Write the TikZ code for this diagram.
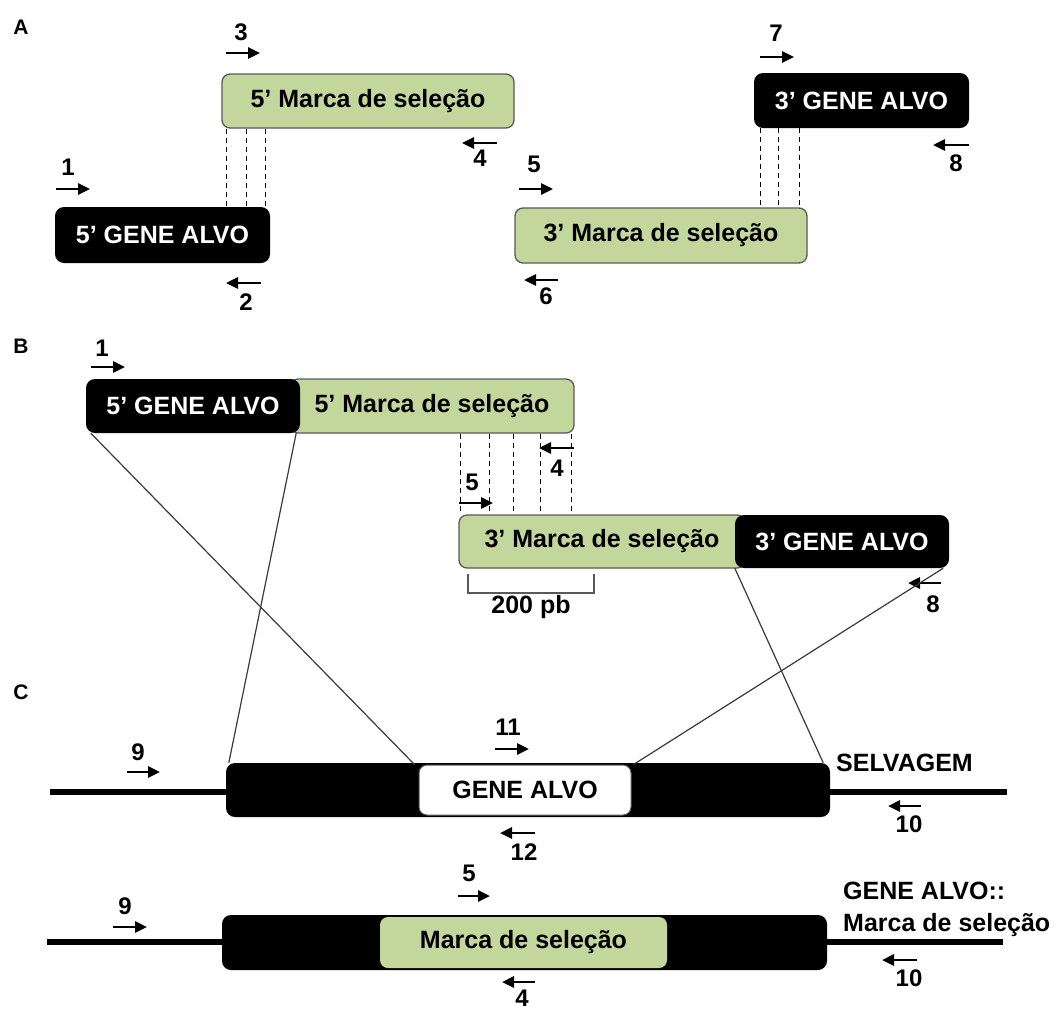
\documentclass[tikz,border=0pt]{standalone}
\usepackage{fontspec}
\setmainfont{Liberation Sans}
\usetikzlibrary{arrows.meta}
\definecolor{marcagreen}{HTML}{C3D69B}
\definecolor{edgegray}{HTML}{595959}
\definecolor{linkgray}{HTML}{3A3A3A}

\begin{document}
\begin{tikzpicture}[
    x=1pt, y=-1pt,
    % GLOBAL CFG
    font=\fontsize{25}{30}\selectfont\bfseries,
    >={Triangle[length=12pt,width=11pt]},
    % Styles
    marca/.style={% For the green selection marker boxes
        rectangle,
        rounded corners=8pt,
        draw=edgegray,
        fill=marcagreen,
        line width=1.3pt,
        inner sep=0pt,
        },
    gene/.style={% For the black target gene boxes
        rectangle,
        rounded corners=9pt,
        fill=black,
        text=white,
        inner sep=0pt,
        },
    wild/.style={% For the white box in the wild type locus
        rectangle,
        rounded corners=8pt,
        draw=edgegray,
        fill=white,
        line width=1pt,
        inner sep=0pt,
        },
    num/.style={% primer numbers
        font=\fontsize{24}{28}\selectfont\bfseries,
        inner sep=0pt,
        },
    panel/.style={% panel letters
        font=\fontsize{21}{24}\selectfont\bfseries,
        inner sep=0pt,
        },
    primer/.style={% primer arrows
        ->,
        line width=2.7pt,
        },
    alignline/.style={% dashed overlap lines
        dashed,
        dash pattern=on 5pt off 4pt,
        line width=1pt,
        },
    link/.style={% thin lines for the recombination
        linkgray,
        line width=1.2pt,
        },
    chrom/.style={% the chromosome
        line width=6pt,
        },
    ]

    \path[fill=white, use as bounding box] (0,0) rectangle (1056,1010);

    % Panel letters
    \node[panel] (pa) at (21,27)  {A};
    \node[panel] (pb) at (21,346) {B};
    \node[panel] (pc) at (21,692) {C};

%%% A: separate PCR products
    \node[marca, minimum width=292pt, minimum height=54pt] (mA5) at (368,101)   {5’ Marca de seleção};
    \node[gene,  minimum width=215pt, minimum height=56pt] (gA5) at (162.5,235) {5’ GENE ALVO};
    \node[gene,  minimum width=215pt, minimum height=55pt] (gA3) at (861.5,100.5) {3’ GENE ALVO};
    \node[marca, minimum width=292pt, minimum height=55pt] (mA3) at (661,235.5) {3’ Marca de seleção};

    % overlaps
    \foreach \x in {226,246,265}{
        \coordinate (dx) at (\x,0);
        \draw[alignline] (mA5.south -| dx) -- (gA5.north -| dx);
    }
    \foreach \x in {760,778,799}{
        \coordinate (dx) at (\x,0);
        \draw[alignline] (gA3.south -| dx) -- (mA3.north -| dx);
    }

    % primers
    \draw[primer] (56,189) -- (90,189);   \node[num] (nA1) at (68,167)  {1};
    \draw[primer] (261,283) -- (226,283); \node[num] (nA2) at (246,302) {2};
    \draw[primer] (226,53) -- (260,53);   \node[num] (nA3) at (241,32)  {3};
    \draw[primer] (497,143) -- (462,143); \node[num] (nA4) at (480,158) {4};
    \draw[primer] (519,189) -- (553,189); \node[num] (nA5) at (534,164) {5};
    \draw[primer] (558,280) -- (524,280); \node[num] (nA6) at (546,296) {6};
    \draw[primer] (760,57) -- (794,57);   \node[num] (nA7) at (776,33)  {7};
    \draw[primer] (969,145) -- (933,145); \node[num] (nA8) at (956,163) {8};

%%% B: fused products
    \node[marca, minimum width=284pt, minimum height=54pt] (mB5) at (432,406)   {5’ Marca de seleção};
    \node[gene,  minimum width=214pt, minimum height=54pt] (gB5) at (193,406)   {5’ GENE ALVO};
    \node[marca, minimum width=286pt, minimum height=53pt] (mB3) at (602,541.5) {3’ Marca de seleção};
    \node[gene,  minimum width=214pt, minimum height=53pt] (gB3) at (842,541.5) {3’ GENE ALVO};

    \foreach \x in {460,489,513,540,571}{
        \coordinate (dx) at (\x,0);
        \draw[alignline] (mB5.south -| dx) -- (mB3.north -| dx);
    }

    % 200 pb bracket
    \draw[edgegray, line width=1.5pt] (468,574) -- (468,593) -- (594,593) -- (594,574);
    \node (pb200) at (531,607) {200 pb};

    \draw[primer] (91,367) -- (125,367);  \node[num] (nB1) at (102,348) {1};
    \draw[primer] (574,448) -- (539,448); \node[num] (nB4) at (557,468) {4};
    \draw[primer] (459,503) -- (493,503); \node[num] (nB5) at (472,482) {5};
    \draw[primer] (941,583) -- (908,583); \node[num] (nB8) at (933,604) {8};

%%% C: loci
    % wild type
    \coordinate (wtL) at (50,792);
    \coordinate (wtR) at (1007,792);
    \draw[chrom] (wtL) -- (wtR);
    \node[gene, minimum width=604pt, minimum height=54pt] (wtbox) at (528,790) {};
    \node[wild, minimum width=212pt, minimum height=50pt] (wtgene) at (525,790) {GENE ALVO};
    \node[anchor=west, inner sep=0pt] (selv) at (836,763) {SELVAGEM};

    \draw[primer] (127,772) -- (160,772); \node[num] (nC9)  at (138,752) {9};
    \draw[primer] (495,749) -- (529,749); \node[num] (nC11) at (508,727) {11};
    \draw[primer] (535,833) -- (500,833); \node[num] (nC12) at (524,852) {12};
    \draw[primer] (921,806) -- (888,806); \node[num] (nC10) at (909,824) {10};

    % mutant
    \coordinate (koL) at (47,942);
    \coordinate (koR) at (1003,942);
    \draw[chrom] (koL) -- (koR);
    \node[gene,  minimum width=605pt, minimum height=55pt] (kobox) at (524.5,942.5) {};
    \node[marca, minimum width=287pt, minimum height=51pt, draw=none] (komarca) at (523.5,942.5) {Marca de seleção};
    \node[anchor=west, align=left, inner sep=0pt, font=\fontsize{25}{32}\selectfont\bfseries] (kolab) at (843,909) {GENE ALVO::\\Marca de seleção};

    \draw[primer] (458,896) -- (490,896); \node[num] (nD5)  at (469,873)  {5};
    \draw[primer] (113,927) -- (147,927); \node[num] (nD9)  at (125,906)  {9};
    \draw[primer] (917,960) -- (882,960); \node[num] (nD10) at (909,978)  {10};
    \draw[primer] (535,982) -- (502,982); \node[num] (nD4)  at (522,998)  {4};

    % Recombination lines
    \draw[link] ([xshift=5pt]gB5.south west) -- ([xshift=-4pt]wtgene.north west);
    \draw[link] ([xshift=-4pt]gB5.south east) -- ([xshift=3pt]wtbox.north west);
    \draw[link] (gB3.south west) -- ([xshift=-7pt]wtbox.north east);
    \draw[link] ([xshift=-6pt]gB3.south east) -- ([xshift=2pt]wtgene.north east);

\end{tikzpicture}
\end{document}
